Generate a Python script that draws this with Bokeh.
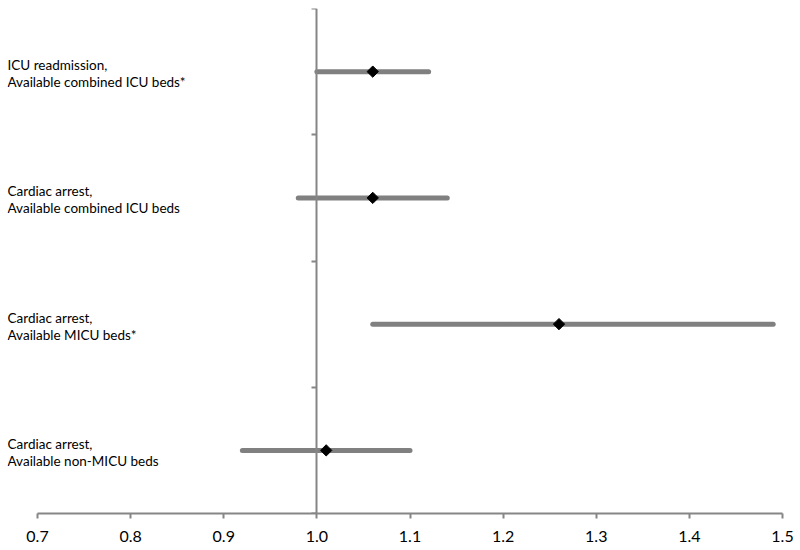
import math
from bokeh.plotting import figure
from bokeh.models import LinearAxis, FixedTicker, Range1d, ColumnDataSource, CustomJSTickFormatter
from bokeh.core.properties import value
from bokeh.embed import file_html
from bokeh.resources import INLINE

# ---- data ----
categories = [
    "ICU readmission,\nAvailable combined ICU beds*",
    "Cardiac arrest,\nAvailable combined ICU beds",
    "Cardiac arrest,\nAvailable MICU beds*",
    "Cardiac arrest,\nAvailable non-MICU beds",
]
estimate = [1.06, 1.06, 1.26, 1.01]
lower = [1.00, 0.98, 1.06, 0.92]
upper = [1.12, 1.14, 1.49, 1.10]
x_ticks = [0.7, 0.8, 0.9, 1.0, 1.1, 1.2, 1.3, 1.4, 1.5]
reference_value = 1.0

n = len(categories)
ypos = [n - i - 0.5 for i in range(n)]

GRAY = "#868686"
BAR = "#808080"
FONT = "Lato"

px_per_unit = 931.25
x_start = 0.7 - 30 / px_per_unit
x_end = 1.5 + 8 / px_per_unit

p = figure(width=800, height=550, output_backend="svg", toolbar_location=None,
           x_range=Range1d(x_start, x_end), y_range=Range1d(0, n),
           x_axis_location=None, y_axis_location=None,
           min_border_left=7, min_border_right=10, min_border_top=8, min_border_bottom=37)
p.outline_line_color = None
p.xgrid.visible = False
p.ygrid.visible = False
p.background_fill_color = "white"
p.border_fill_color = "white"

xaxis = LinearAxis(ticker=FixedTicker(ticks=x_ticks), bounds=(x_ticks[0], x_ticks[-1]))
xaxis.formatter = CustomJSTickFormatter(code="return tick.toFixed(1);")
xaxis.axis_line_color = GRAY
xaxis.axis_line_width = 2
xaxis.major_tick_line_color = GRAY
xaxis.major_tick_line_width = 2
xaxis.major_tick_out = 5
xaxis.major_tick_in = 0
xaxis.minor_tick_line_color = None
xaxis.major_label_text_font = FONT
xaxis.major_label_text_font_size = "16px"
xaxis.major_label_text_color = "#000000"
xaxis.major_label_standoff = 12
p.add_layout(xaxis, "below")

yaxis = LinearAxis(ticker=FixedTicker(ticks=list(range(n + 1))), bounds=(0, n))
yaxis.fixed_location = reference_value
yaxis.formatter = CustomJSTickFormatter(code="return '';")
yaxis.axis_line_color = GRAY
yaxis.axis_line_width = 2
yaxis.major_tick_line_color = GRAY
yaxis.major_tick_line_width = 2
yaxis.major_tick_out = 5
yaxis.major_tick_in = 0
yaxis.minor_tick_line_color = None
yaxis.major_label_standoff = 0
p.add_layout(yaxis, "left")

src = ColumnDataSource(dict(y=ypos, est=estimate, lo=lower, hi=upper, label=categories,
                            lx=[x_start] * n))

p.segment(x0="lo", x1="hi", y0="y", y1="y", source=src, line_color=BAR,
          line_width=5, line_cap="round")
p.scatter(x="est", y="y", source=src, marker="square", angle=math.pi / 4, size=8,
          fill_color="black", line_color="black")
p.text(x="lx", y="y", text="label", source=src, text_font=value(FONT),
       text_font_size="13.5px", text_align="left", text_baseline="middle",
       text_color="#000000", text_line_height=1.05, y_offset=2)

open("out.html", "w").write(file_html(p, INLINE))
